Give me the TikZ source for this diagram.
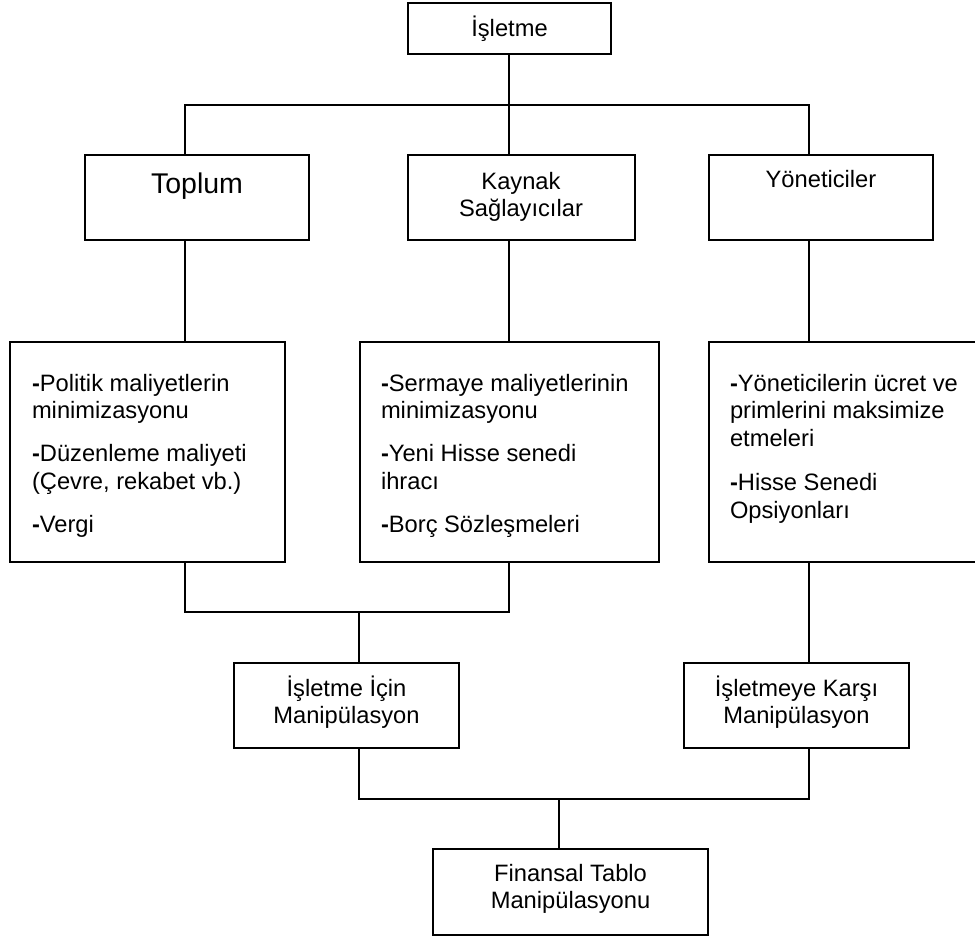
\documentclass[tikz,border=0pt]{standalone}
\usepackage{fontspec}
\setmainfont{Liberation Sans}
\newcommand{\tp}{\rule{0pt}{25pt}}
\newcommand{\dsh}{\textbf{-}}
\tikzset{
  box/.style={draw, line width=1.8pt, inner sep=0pt, outer sep=0pt, anchor=north west},
  conn/.style={line width=1.3pt, line join=miter},
  txt/.style={inner sep=0pt, outer sep=0pt, font=\fontsize{23.7}{27.8}\selectfont},
  ctxt/.style={txt, anchor=north, align=center},
  ltxt/.style={txt, anchor=north west, align=left},
}
\begin{document}
\begin{tikzpicture}[x=1pt, y=-1pt]
\useasboundingbox (0,0) rectangle (975,937);

% boxes
\node[box, minimum width=203pt, minimum height=51pt] (isletme) at (408,3) {};
\node[box, minimum width=224pt, minimum height=85pt] (toplum) at (85,155) {};
\node[box, minimum width=227pt, minimum height=85pt] (kaynak) at (408,155) {};
\node[box, minimum width=224pt, minimum height=85pt] (yon) at (709,155) {};
\node[box, minimum width=275pt, minimum height=220pt] (p1) at (10,342) {};
\node[box, minimum width=299pt, minimum height=220pt] (p2) at (360,342) {};
\node[box, minimum width=272pt, minimum height=220pt] (p3) at (709,342) {};
\node[box, minimum width=225pt, minimum height=85pt] (ici) at (234,663) {};
\node[box, minimum width=225pt, minimum height=85pt] (kar) at (684,663) {};
\node[box, minimum width=275pt, minimum height=86pt] (fin) at (433,849) {};

% texts
\node[ctxt] (isletmeT) at (509.5,11) {\tp İşletme};
\node[ctxt, font=\fontsize{28.5}{32}\selectfont] (toplumT) at (197,168) {\tp Toplum};
\node[ctxt] (kaynakT) at (521,164) {\tp Kaynak\\Sağlayıcılar};
\node[ctxt] (yonT) at (821,162) {\tp Yöneticiler};
\node[ltxt] (p1T) at (32,366) {\tp\dsh Politik maliyetlerin\\minimizasyonu\\[15pt]\dsh Düzenleme maliyeti\\(Çevre, rekabet vb.)\\[15pt]\dsh Vergi};
\node[ltxt] (p2T) at (381,366) {\tp\dsh Sermaye maliyetlerinin\\minimizasyonu\\[15pt]\dsh Yeni Hisse senedi\\ihracı\\[15pt]\dsh Borç Sözleşmeleri};
\node[ltxt] (p3T) at (730,366) {\tp\dsh Yöneticilerin ücret ve\\primlerini maksimize\\etmeleri\\[16pt]\dsh Hisse Senedi\\Opsiyonları};
\node[ctxt] (iciT) at (346.5,671) {\tp İşletme İçin\\Manipülasyon};
\node[ctxt] (karT) at (796.5,671) {\tp İşletmeye Karşı\\Manipülasyon};
\node[ctxt] (finT) at (570.5,856) {\tp Finansal Tablo\\Manipülasyonu};

% connector coordinates
\coordinate (tL) at (185,105);
\coordinate (tM) at (509,105);
\coordinate (tR) at (809,105);
\coordinate (jL) at (185,612);
\coordinate (jM) at (359,612);
\coordinate (jR) at (509,612);
\coordinate (bL) at (359,799);
\coordinate (bM) at (559,799);
\coordinate (bR) at (809,799);

% connectors
\draw[conn] (isletme.south -| tM) -- (tM);
\draw[conn] (tL |- toplum.north) -- (tL) -- (tR) -- (tR |- yon.north);
\draw[conn] (tM) -- (tM |- kaynak.north);
\draw[conn] (toplum.south -| tL) -- (tL |- p1.north);
\draw[conn] (kaynak.south -| tM) -- (tM |- p2.north);
\draw[conn] (yon.south -| tR) -- (tR |- p3.north);
\draw[conn] (p1.south -| jL) -- (jL) -- (jR) -- (p2.south -| jR);
\draw[conn] (jM) -- (jM |- ici.north);
\draw[conn] (p3.south -| bR) -- (bR |- kar.north);
\draw[conn] (ici.south -| bL) -- (bL) -- (bR) -- (kar.south -| bR);
\draw[conn] (bM) -- (bM |- fin.north);
\end{tikzpicture}
\end{document}
